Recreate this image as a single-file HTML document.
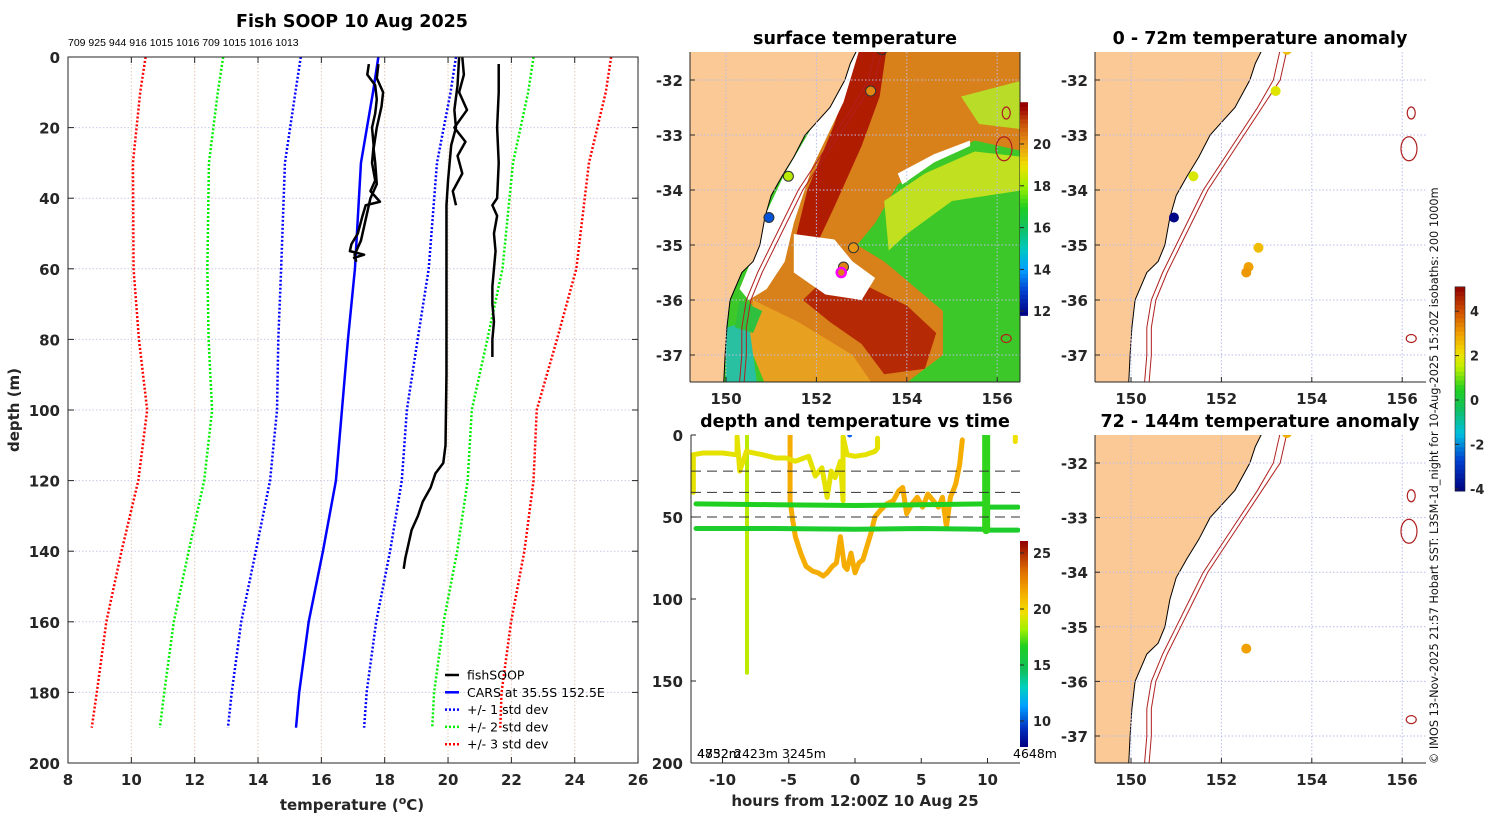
<!DOCTYPE html>
<html><head><meta charset="utf-8"><style>
html,body{margin:0;padding:0;background:#fff;}
svg{display:block;font-family:"Liberation Sans","DejaVu Sans",sans-serif;}
.tk{font-family:"DejaVu Sans","Liberation Sans",sans-serif;font-weight:bold;font-size:15px;fill:#262626;}
.ttl{font-family:"DejaVu Sans","Liberation Sans",sans-serif;font-weight:bold;font-size:17.5px;fill:#000;}
.cb{font-family:"DejaVu Sans","Liberation Sans",sans-serif;font-weight:bold;font-size:13px;fill:#262626;}
.lg{font-family:"DejaVu Sans","Liberation Sans",sans-serif;font-size:12.5px;fill:#000;}
</style></head><body>
<svg id="fig" width="1500" height="820" viewBox="0 0 1500 820" xmlns="http://www.w3.org/2000/svg">
<defs>
<clipPath id="c1"><rect x="690" y="52" width="330" height="330"/></clipPath>
<clipPath id="c2"><rect x="1095" y="52" width="331" height="330"/></clipPath>
<clipPath id="c3"><rect x="1095" y="435" width="331" height="328"/></clipPath>
<clipPath id="c4"><rect x="691" y="435" width="329" height="328"/></clipPath>
<linearGradient id="gJet" x1="0" y1="1" x2="0" y2="0">
<stop offset="0" stop-color="#00007f"/><stop offset="0.09" stop-color="#0030c0"/><stop offset="0.2" stop-color="#00a0ff"/><stop offset="0.29" stop-color="#00d0c0"/><stop offset="0.37" stop-color="#10c060"/><stop offset="0.49" stop-color="#20d020"/><stop offset="0.57" stop-color="#a0f000"/><stop offset="0.65" stop-color="#f0e000"/><stop offset="0.74" stop-color="#f5b000"/><stop offset="0.85" stop-color="#e07000"/><stop offset="1" stop-color="#900000"/>
</linearGradient>
</defs>
<text x="352" y="27" text-anchor="middle" class="ttl">Fish SOOP 10 Aug 2025</text>
<text x="68" y="46" font-size="10.5" font-family="Liberation Sans, sans-serif">709 925 944 916 1015 1016 709 1015 1016 1013</text>
<text x="855" y="44" text-anchor="middle" class="ttl">surface temperature</text>
<text x="1260" y="44" text-anchor="middle" class="ttl">0 - 72m temperature anomaly</text>
<text x="855" y="427" text-anchor="middle" class="ttl">depth and temperature vs time</text>
<text x="1260" y="427" text-anchor="middle" class="ttl">72 - 144m temperature anomaly</text>
<text transform="translate(1438,764) rotate(-90)" font-size="11.3" font-family="DejaVu Sans, Liberation Sans, sans-serif" fill="#111">© IMOS 13-Nov-2025 21:57 Hobart SST: L3SM-1d_night for 10-Aug-2025 15:20Z isobaths: 200  1000m</text>
<g id="g1"></g><g id="g2"></g><g id="g3"></g><g id="g4"></g><g id="g5"></g>
</svg>
<script>
// ---------- profile data ----------
const carsDepth = [0,10,30,60,80,100,120,140,160,180,190];
const carsTemp = [17.8,17.63,17.25,17.06,16.84,16.65,16.46,16.05,15.6,15.3,15.2];
const carsSd = [2.45,2.45,2.4,2.33,2.2,2.05,2.08,2.12,2.13,2.13,2.15];
const profADepth = [2,5,8,12,16,20,25,30,35,38,41,42,45,50,53,55,56,57];
const profATemp = [17.5,17.45,17.7,17.75,17.7,17.6,17.65,17.6,17.7,17.55,17.85,17.4,17.3,17.15,16.95,16.9,17.35,17.0];
const profA2Depth = [2,6,10,14,20,26,30,36,40,44,48,52,56,58];
const profA2Temp = [17.8,17.75,17.95,17.9,17.75,17.65,17.7,17.75,17.55,17.45,17.35,17.25,17.05,17.1];
const profBDepth = [0,8,15,20,25,30,35,42,50,70,90,110,115,118,122,126,130,134,138,142,145];
const profBTemp = [20.35,20.3,20.2,20.25,20.1,20.05,20.0,19.95,19.95,19.95,19.95,19.92,19.85,19.6,19.45,19.2,19.05,18.85,18.75,18.65,18.6];
const profB2Depth = [0,5,10,15,20,24,28,33,38,42];
const profB2Temp = [20.45,20.5,20.35,20.6,20.2,20.55,20.3,20.45,20.15,20.25];
const profCDepth = [2,10,20,30,40,42,45,50,55,60,65,70,75,80,85];
const profCTemp = [21.6,21.6,21.55,21.6,21.55,21.4,21.55,21.45,21.5,21.45,21.4,21.4,21.45,21.4,21.4];
const profXTicks = [8,10,12,14,16,18,20,22,24,26];
const profYTicks = [0,20,40,60,80,100,120,140,160,180,200];

// ---------- depth/time data ----------
const trkYHours = [-12.2,-12.2,-11.5,-10,-9,-8.9,-8.9,-8.7,-8.2,-7,-6,-5.2,-4.5,-3.5,-3,-2.5,-2.1,-1.8,-1.5,-1.1,-0.9,-0.9,-0.6,0,0.8,1.5,1.7,1.7];
const trkYDepth = [35,12,11,11,12,12,1,22,10,12,14,14,16,13,25,20,38,22,26,16,40,1,12,13,12,10,8,2];
const trkOHours = [-4.9,-4.9,-4.7,-4.5,-4.1,-3.7,-3.2,-2.8,-2.4,-2.1,-1.7,-1.4,-1.1,-0.8,-0.6,-0.3,0,0.3,0.6,0.9,1.2,1.5,1.9,2.4,2.9,3.3,3.6,3.9,4.3,4.7,5.1,5.5,5.9,6.3,6.6,6.9,7.2,7.6,7.9,8.1];
const trkODepth = [0,40,52,62,72,80,83,84,86,84,80,78,62,80,82,72,84,78,76,68,60,50,46,42,40,34,32,48,42,38,44,36,40,44,38,56,38,30,18,3];
const trkG1Hours = [-12,-6,0,5,9.8];
const trkG1Depth = [42,42.5,43,42.5,42];
const trkG2Hours = [-12,-6,0,5,9.8];
const trkG2Depth = [57,57,57.5,57,57.5];
const trkG3Hours = [10,12.3];
const trkG3Depth = [44,44];
const trkG4Hours = [10,12.3];
const trkG4Depth = [58,58];
const trkVHours = [-8.15,-8.15];
const trkVDepth = [0,145];
const trkV2Hours = [9.9,9.9];
const trkV2Depth = [0,58];
const trkTemps = [19.8,21.6,17.0,16.6,16.8,16.6,19.0,17.2];
const dashDepth = [22,35,50];
const dtXTicks = [-10,-5,0,5,10];
const dtYTicks = [0,50,100,150,200];
const cb2Ticks = [10,15,20,25];

// ---------- map data ----------
const coastLon = [152.9,152.75,152.63,152.3,151.75,151.5,151.24,151.0,150.86,150.75,150.6,150.35,150.09,150.02,149.98,149.95];
const coastLat = [-31.45,-31.7,-32,-32.5,-33,-33.4,-33.75,-34.1,-34.5,-35,-35.3,-35.5,-36,-36.5,-37,-37.5];
const iso1Lon = [153.3,153.15,152.8,152.4,152.0,151.6,151.3,151.0,150.7,150.45,150.35,150.35,150.3];
const iso1Lat = [-31.45,-32,-32.5,-33,-33.5,-34,-34.5,-35,-35.5,-36,-36.5,-37,-37.5];
const iso2Lon = [153.45,153.3,152.9,152.5,152.1,151.7,151.4,151.1,150.8,150.55,150.45,150.45,150.4];
const dotLon = [153.45,153.2,151.38,150.95,152.82,152.6,152.55];
const dotLat = [-31.45,-32.2,-33.75,-34.5,-35.05,-35.4,-35.5];
const dotSst = [21.5,20.2,18.3,13.2,20.0,20.3,20.3];
const dotAnom = [2.6,1.9,1.8,-4,2.6,3.0,3.1];
const dot2Lon = [153.45,152.55];
const dot2Lat = [-31.45,-35.4];
const dot2Anom = [2.8,3.0];
const lonTicks = [150,152,154,156];
const latTicks = [-32,-33,-34,-35,-36,-37];
const cb1Ticks = [12,14,16,18,20];
const cb3Ticks = [-4,-2,0,2,4];

const NS='http://www.w3.org/2000/svg';
function mk(tag, at, parent){const e=document.createElementNS(NS,tag);for(const k in at)e.setAttribute(k,at[k]);(parent||document.getElementById('fig')).appendChild(e);return e;}

// ============ PROFILE PANEL ============
const g1=document.getElementById('g1');
const px=t=>68+(t-8)*31.67, py=d=>57+d*3.53;
profXTicks.forEach(t=>{
  const l=mk('line',{x1:px(t),x2:px(t),y1:57,y2:763,stroke:'#e6c8b4','stroke-dasharray':'1.5 2','stroke-width':1},g1);
  
  
  const tl=mk('text',{x:px(t),y:785,'text-anchor':'middle',class:'tk'},g1);tl.textContent=t;
  
  
  mk('line',{x1:px(t),x2:px(t),y1:763,y2:757,stroke:'#262626'},g1);
  mk('line',{x1:px(t),x2:px(t),y1:57,y2:63,stroke:'#262626'},g1);
});
profYTicks.forEach(d=>{
  const l=mk('line',{x1:68,x2:638,y1:py(d),y2:py(d),stroke:'#c8c8ec','stroke-dasharray':'1.5 2'},g1);
  
  
  const tl=mk('text',{x:60,y:py(d)+6,'text-anchor':'end',class:'tk'},g1);tl.textContent=d;
  
  
  mk('line',{x1:68,x2:74,y1:py(d),y2:py(d),stroke:'#262626'},g1);
  mk('line',{x1:638,x2:632,y1:py(d),y2:py(d),stroke:'#262626'},g1);
});
function profLine(temps,depths,color,w,dash,name){
  const p=mk('polyline',{points:temps.map((t,i)=>px(t)+','+py(depths[i])).join(' '),fill:'none',stroke:color,'stroke-width':w,'stroke-linejoin':'round'},g1);
  if(dash)p.setAttribute('stroke-dasharray',dash);
  
  
}
[1,2,3].forEach(k=>{
  const c=['#0000ff','#00ee00','#ff0000'][k-1];
  profLine(carsTemp.map((t,i)=>t-k*carsSd[i]),carsDepth,c,2.5,'2 2','std-minus-'+k);
  profLine(carsTemp.map((t,i)=>t+k*carsSd[i]),carsDepth,c,2.5,'2 2','std-plus-'+k);
});
profLine(carsTemp,carsDepth,'#0000ff',2.5,null,'cars-mean-line');
profLine(profATemp,profADepth,'#000',2.5,null,'fishsoop-profile-a');
profLine(profA2Temp,profA2Depth,'#000',2.5,null,'fishsoop-profile-a2');
profLine(profBTemp,profBDepth,'#000',2.5,null,'fishsoop-profile-b');
profLine(profB2Temp,profB2Depth,'#000',2.5,null,'fishsoop-profile-b2');
profLine(profCTemp,profCDepth,'#000',2.5,null,'fishsoop-profile-c');
{const r=mk('rect',{x:68,y:57,width:570,height:706,fill:'none',stroke:'#262626','stroke-width':1},g1);

}
{const t=mk('text',{x:352,y:810,'text-anchor':'middle',class:'tk','font-size':'16.5'},g1);
t.innerHTML='temperature (<tspan dy="-6" font-size="11">o</tspan><tspan dy="6">C)</tspan>';


const y=mk('text',{transform:'translate(19,410) rotate(-90)','text-anchor':'middle',class:'tk','font-size':'16.5'},g1);y.textContent='depth (m)';

}
const legItems=[['fishSOOP','#000',null],['CARS at 35.5S 152.5E','#0000ff',null],['+/- 1 std dev','#0000ff','2 2'],['+/- 2 std dev','#00ee00','2 2'],['+/- 3 std dev','#ff0000','2 2']];
legItems.forEach((it,i)=>{
  const y=675+i*17.3;
  const l=mk('line',{x1:445,x2:459,y1:y,y2:y,stroke:it[1],'stroke-width':2.5},g1);
  if(it[2])l.setAttribute('stroke-dasharray',it[2]);
  const t=mk('text',{x:467,y:y+4.5,class:'lg'},g1);t.textContent=it[0];
  
  
});

// ============ colormaps ============
const jetStops=[[8.4,[0,0,127]],[10,[0,48,192]],[12,[0,160,255]],[13.5,[0,208,192]],[15,[16,192,96]],[17,[32,208,32]],[18.5,[160,240,0]],[20,[240,224,0]],[21.5,[245,176,0]],[23.5,[224,112,0]],[26.1,[144,0,0]]];
function cmap(v,stops){if(v<=stops[0][0])return 'rgb('+stops[0][1]+')';for(let i=1;i<stops.length;i++){if(v<=stops[i][0]){const a=stops[i-1],b=stops[i],f=(v-a[0])/(b[0]-a[0]);return 'rgb('+a[1].map((c,j)=>Math.round(c+(b[1][j]-c)*f)).join(',')+')';}}return 'rgb('+stops[stops.length-1][1]+')';}
const sstStops=[[11.8,[0,0,127]],[13,[0,64,208]],[14,[0,160,255]],[15,[0,200,192]],[16,[16,192,96]],[17,[32,208,32]],[18,[160,240,0]],[19,[240,224,0]],[20,[232,150,20]],[21,[200,80,10]],[21.8,[150,0,0]]];
const anStops=[[-4.1,[0,0,127]],[-2.7,[0,64,208]],[-1.5,[0,192,224]],[-0.4,[16,192,96]],[0.5,[32,208,32]],[1.5,[192,240,0]],[2.1,[240,224,0]],[3,[240,160,0]],[4,[208,80,0]],[5.1,[144,0,0]]];

// ============ DEPTH/TIME PANEL ============
const g4=document.getElementById('g4');
const hx=h=>855+h*13.25, dy=d=>435+d*1.64;
const dtClip=mk('g',{'clip-path':'url(#c4)'},g4);
function track(hs,ds,temp,w,name){
  const p=mk('polyline',{points:hs.map((h,i)=>hx(h)+','+dy(ds[i])).join(' '),fill:'none',stroke:cmap(temp,jetStops),'stroke-width':w,'stroke-linecap':'round','stroke-linejoin':'round'},dtClip);
  
  
}
track(trkVHours,trkVDepth,trkTemps[6],4,'track-vertical-cast');
track(trkOHours,trkODepth,trkTemps[1],5,'track-dive-orange');
track(trkYHours,trkYDepth,trkTemps[0],5,'track-shallow-yellow');
track(trkG1Hours,trkG1Depth,trkTemps[2],5,'track-green-upper');
track(trkG2Hours,trkG2Depth,trkTemps[3],5,'track-green-lower');
track(trkG3Hours,trkG3Depth,trkTemps[4],5,'track-green-upper-late');
track(trkG4Hours,trkG4Depth,trkTemps[5],5,'track-green-lower-late');
track(trkV2Hours,trkV2Depth,trkTemps[7],8,'track-vertical-green');
dashDepth.forEach(d=>{const l=mk('line',{x1:691,x2:1020,y1:dy(d),y2:dy(d),stroke:'#333','stroke-dasharray':'10 6','stroke-width':1},dtClip);

});
{const c=mk('circle',{cx:hx(-0.4),cy:dy(0),r:2.5,fill:'#1060f0'},dtClip);
const c2=mk('line',{x1:hx(12.1),x2:hx(12.1),y1:dy(1),y2:dy(4),stroke:'#f0e000','stroke-width':5,'stroke-linecap':'round'},dtClip);}
mk('line',{x1:691,x2:691,y1:435,y2:763,stroke:'#262626'},g4);
mk('line',{x1:691,x2:1020,y1:763,y2:763,stroke:'#262626'},g4);
dtXTicks.forEach(h=>{mk('line',{x1:hx(h),x2:hx(h),y1:763,y2:758,stroke:'#262626'},g4);
const t=mk('text',{x:hx(h),y:785,'text-anchor':'middle',class:'tk'},g4);t.textContent=h;

});
dtYTicks.forEach(d=>{mk('line',{x1:691,x2:696,y1:dy(d),y2:dy(d),stroke:'#262626'},g4);
const t=mk('text',{x:683,y:dy(d)+6,'text-anchor':'end',class:'tk'},g4);t.textContent=d;

});
{const t=mk('text',{x:855,y:806,'text-anchor':'middle',class:'tk','font-size':'16.5'},g4);t.textContent='hours from 12:00Z 10 Aug 25';


const a=mk('text',{x:697,y:758,'font-size':'12.5','font-family':'DejaVu Sans, sans-serif'},g4);a.textContent='4852m';

const a2=mk('text',{x:697,y:758,'font-size':'12.5','font-family':'DejaVu Sans, sans-serif'},g4);a2.textContent='4732m';

const b=mk('text',{x:734,y:758,'font-size':'12.5','font-family':'DejaVu Sans, sans-serif'},g4);b.textContent='2423m  3245m';

const c=mk('text',{x:1013,y:758,'font-size':'12.5','font-family':'DejaVu Sans, sans-serif'},g4);c.textContent='4648m';
}
// colorbar 2
{const r=mk('rect',{x:1020,y:541,width:8,height:206,fill:'url(#gJet)'},g4);
const cy=v=>553+(25-v)*11.2;
cb2Ticks.forEach(v=>{mk('line',{x1:1020,x2:1024,y1:cy(v),y2:cy(v),stroke:'#262626'},g4);
const t=mk('text',{x:1033,y:cy(v)+5,class:'cb'},g4);t.textContent=v;
});}

// ============ MAPS ============
function pts(lons,lats,P){return lons.map((l,i)=>P.mx(l)+','+P.my(lats[i])).join(' ');}
function drawBase(P){
  const cg=mk('g',{'clip-path':'url(#'+P.clip+')'},P.g);
  mk('rect',{x:P.x0,y:P.y0,width:P.x1-P.x0,height:P.y1-P.y0,fill:'#fff'},cg);
  return cg;
}
function drawCoast(P,cg,name){
  const land=mk('polygon',{points:P.x0-5+','+(P.y0-5)+' '+pts(coastLon,coastLat,P)+' '+(P.x0-5)+','+(P.y1+5),fill:'#fbc996',stroke:'#000','stroke-width':1},cg);
  
  
  lonTicks.forEach(l=>{const gl=mk('line',{x1:P.mx(l),x2:P.mx(l),y1:P.y0,y2:P.y1,stroke:'#b8bce8','stroke-dasharray':'1.5 2','stroke-width':1},cg);});
  latTicks.forEach(l=>{const gl=mk('line',{x1:P.x0,x2:P.x1,y1:P.my(l),y2:P.my(l),stroke:'#b8bce8','stroke-dasharray':'1.5 2','stroke-width':1},cg);});
  const i1=mk('polyline',{points:pts(iso1Lon,iso1Lat,P),fill:'none',stroke:'#b02020','stroke-width':1},cg);
  
  const i2=mk('polyline',{points:pts(iso2Lon,iso1Lat,P),fill:'none',stroke:'#b02020','stroke-width':1},cg);
  
  [[156.2,-32.6,4,6],[156.15,-33.25,8,12],[156.2,-36.7,5,4]].forEach(s=>{const e=mk('ellipse',{cx:P.mx(s[0]),cy:P.my(s[1]),rx:s[2],ry:s[3],fill:'none',stroke:'#b02020','stroke-width':1.2},cg);});
}
function drawAxes(P,latLabX){
  const g=P.g;
  mk('line',{x1:P.x0,x2:P.x0,y1:P.y0,y2:P.y1,stroke:'#262626'},g);
  mk('line',{x1:P.x0,x2:P.x1,y1:P.y1,y2:P.y1,stroke:'#262626'},g);
  lonTicks.forEach(l=>{mk('line',{x1:P.mx(l),x2:P.mx(l),y1:P.y1,y2:P.y1-5,stroke:'#262626'},g);
    const t=mk('text',{x:P.mx(l),y:P.y1+22,'text-anchor':'middle',class:'tk'},g);t.textContent=l;
    });
  latTicks.forEach(l=>{mk('line',{x1:P.x0,x2:P.x0+5,y1:P.my(l),y2:P.my(l),stroke:'#262626'},g);
    const t=mk('text',{x:latLabX,y:P.my(l)+6,'text-anchor':'end',class:'tk'},g);t.textContent=l;
    });
}

// SST map
const P1={g:document.getElementById('g2'),mx:l=>726+(l-150)*45.2,my:la=>80+(-32-la)*55,x0:690,x1:1020,y0:52,y1:382,clip:'c1'};
const cg1=drawBase(P1);
{
  const sh=(lonlat,col,name)=>{const p=mk('polygon',{points:lonlat.map(q=>P1.mx(q[0])+','+P1.my(q[1])).join(' '),fill:col},cg1);};
  sh([[149,-31.4],[157,-31.4],[157,-37.6],[149,-37.6]],'#3cc828','sst-green-field');
  sh([[152.9,-31.45],[156.6,-31.45],[156.6,-33.3],[155.5,-33.1],[154.6,-33.5],[153.8,-33.9],[153.3,-34.6],[152.9,-35.0],[153.5,-35.3],[154.8,-36.2],[154.8,-37.0],[154.0,-37.5],[153.0,-37.6],[151.5,-37.6],[151.0,-36.6],[150.5,-36.0],[150.9,-35.3],[151.3,-34.5],[151.8,-33.3],[152.4,-32.2]],'#d8801a','sst-warm-north');
  sh([[153.5,-34.2],[154.4,-33.7],[155.5,-33.3],[156.6,-33.4],[156.6,-34.0],[155,-34.2],[154,-34.8],[153.6,-35.1]],'#c0e020','sst-front');
  sh([[155.2,-32.3],[156.6,-32.0],[156.6,-32.9],[155.6,-32.8]],'#b8dc28','sst-north-east-cool');
  sh([[150.6,-36.0],[151.6,-36.4],[152.8,-37.0],[153.3,-37.6],[150.9,-37.6],[150.5,-36.8]],'#e8a020','sst-south-strip');
  sh([[152.8,-31.45],[153.55,-31.45],[153.4,-32.3],[153.0,-33.2],[152.4,-34.3],[152.0,-35.0],[151.5,-35.0],[151.8,-34.0],[152.4,-32.8],[152.7,-32.0]],'#b01c00','sst-eac-core');
  sh([[152.2,-35.6],[153.0,-35.7],[154.0,-36.1],[154.65,-36.6],[154.4,-37.25],[153.5,-37.35],[153.0,-36.8],[152.3,-36.4],[151.7,-36.0]],'#b52a05','sst-eddy');
  sh([[150.0,-36.5],[150.5,-36.4],[150.7,-37.6],[150.0,-37.6]],'#28c0a0','sst-coastal-cool');
  sh([[150.3,-36.0],[150.8,-36.2],[150.6,-36.6],[150.2,-36.5]],'#30c040','sst-coastal-green');
  sh([[152.7,-31.45],[152.95,-31.45],[152.6,-32.4],[151.9,-33.6],[151.5,-34.6],[151.3,-35.3],[150.9,-35.8],[150.5,-36.0],[150.3,-35.8],[150.7,-35.0],[150.9,-34.4],[151.3,-33.7],[151.8,-33.0],[152.5,-32.0]],'#ffffff','cloud-coastal');
  sh([[151.5,-34.8],[152.4,-34.9],[152.8,-35.3],[153.3,-35.6],[153.0,-36.0],[152.2,-35.9],[151.5,-35.5]],'#ffffff','cloud-centre');
  sh([[153.8,-33.7],[154.6,-33.35],[155.4,-33.1],[155.4,-33.2],[154.6,-33.5],[153.9,-33.9]],'#ffffff','cloud-front');
}
drawCoast(P1,cg1,'sst');
dotLon.forEach((l,i)=>{const c=mk('circle',{cx:P1.mx(l),cy:P1.my(dotLat[i]),r:5,fill:cmap(dotSst[i],sstStops),stroke:'#333','stroke-width':1},cg1);
});
{const m=mk('circle',{cx:P1.mx(152.55),cy:P1.my(-35.5),r:4.5,fill:'none',stroke:'#ff00ff','stroke-width':2.5},cg1);}
drawAxes(P1,683);
mk('line',{x1:1020,x2:1020,y1:52,y2:382,stroke:'#262626'},P1.g);
// colorbar 1
{const g=P1.g;const r=mk('rect',{x:1020,y:107,width:8,height:205,fill:'#fff'},g);
const cy=v=>144+(20-v)*20.9;
const stepsV=[];for(let v=11.8;v<21.8;v+=0.2)stepsV.push(v);
stepsV.forEach(v=>mk('rect',{x:1020,y:cy(v+0.2),width:8,height:20.9*0.2+0.5,fill:cmap(v+0.1,sstStops)},g));

cb1Ticks.forEach(v=>{mk('line',{x1:1020,x2:1024,y1:cy(v),y2:cy(v),stroke:'#262626'},g);
const t=mk('text',{x:1033,y:cy(v)+5,class:'cb'},g);t.textContent=v;
});}

// anomaly maps
const P2={g:document.getElementById('g3'),mx:l=>1131+(l-150)*45.2,my:la=>80+(-32-la)*55,x0:1095,x1:1426,y0:52,y1:382,clip:'c2'};
const cg2=drawBase(P2);drawCoast(P2,cg2,'anom-top');
dotLon.forEach((l,i)=>{const c=mk('circle',{cx:P2.mx(l),cy:P2.my(dotLat[i]),r:5,fill:cmap(dotAnom[i],anStops)},cg2);
});
drawAxes(P2,1088);
const P3={g:document.getElementById('g5'),mx:l=>1131+(l-150)*45.2,my:la=>463+(-32-la)*54.6,x0:1095,x1:1426,y0:435,y1:763,clip:'c3'};
const cg3=drawBase(P3);drawCoast(P3,cg3,'anom-bottom');
dot2Lon.forEach((l,i)=>{const c=mk('circle',{cx:P3.mx(l),cy:P3.my(dot2Lat[i]),r:5,fill:cmap(dot2Anom[i],anStops)},cg3);
});
drawAxes(P3,1088);
// colorbar 3
{const g=P3.g;const cy=v=>400-v*22.2;
const stepsV=[];for(let v=-4.1;v<5.1;v+=0.2)stepsV.push(v);
stepsV.forEach(v=>mk('rect',{x:1455,y:cy(v+0.2),width:10,height:22.2*0.2+0.5,fill:cmap(v+0.1,anStops)},g));
const r=mk('rect',{x:1455,y:cy(5.1),width:10,height:cy(-4.1)-cy(5.1),fill:'none',stroke:'#262626','stroke-width':0.6},g);

cb3Ticks.forEach(v=>{mk('line',{x1:1455,x2:1459,y1:cy(v),y2:cy(v),stroke:'#262626'},g);
const t=mk('text',{x:1470,y:cy(v)+5,class:'cb'},g);t.textContent=v;
});}
</script>
</body></html>
